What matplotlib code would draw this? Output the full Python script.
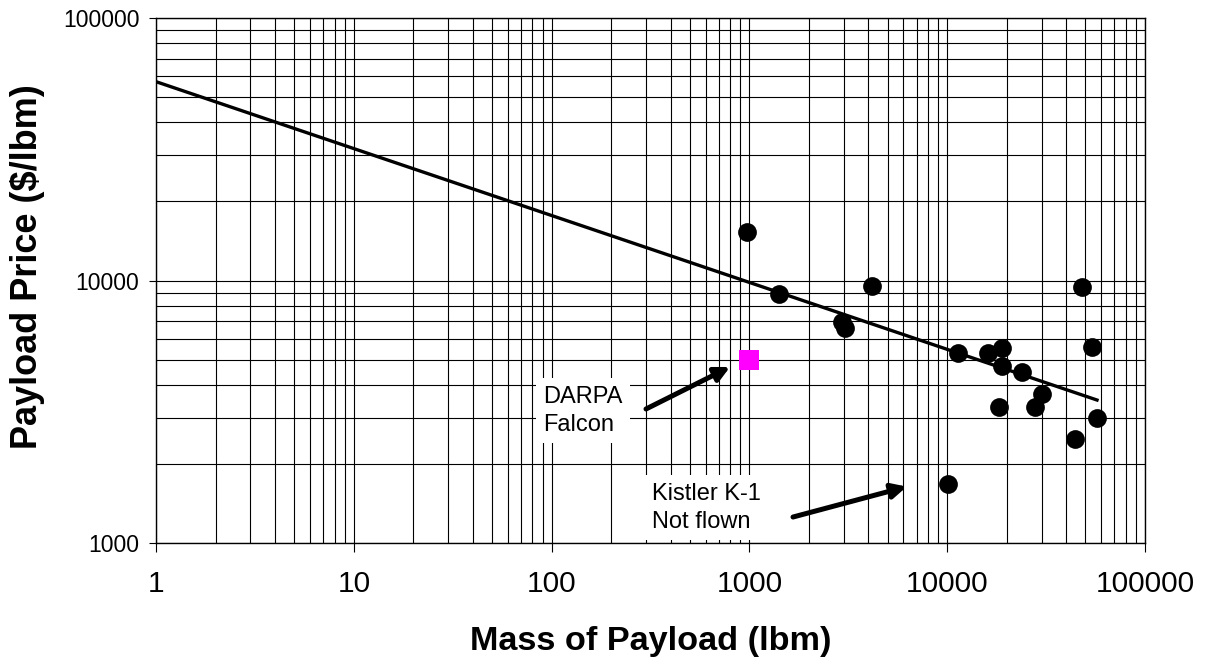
import matplotlib
matplotlib.use("Agg")
import matplotlib.pyplot as plt
from matplotlib.ticker import NullFormatter

plt.rcParams['font.family'] = ['Liberation Sans', 'DejaVu Sans']

# Launch vehicles: payload mass (lbm) vs price ($/lbm)
mass = [972, 1412, 4170, 2940, 3040, 47900, 54000, 11300, 16100, 19000,
        19000, 23800, 30000, 27700, 18300, 57200, 44100, 10090]
price = [15300, 8880, 9530, 6950, 6590, 9420, 5590, 5310, 5280, 5550,
         4740, 4470, 3690, 3290, 3300, 2990, 2500, 1680]

# DARPA Falcon target
falcon_mass = [1000]
falcon_price = [5000]

# trend line ends
trend_x = [1, 57200]
trend_y = [57200, 3505]

x_ticks = [1, 10, 100, 1000, 10000, 100000]
x_labels = ['1', '10', '100', '1000', '10000', '100000']
y_ticks = [1000, 10000, 100000]
y_labels = ['1000', '10000', '100000']

fig = plt.figure(figsize=(12.05, 6.64), dpi=100)
ax = fig.add_axes([0.1295, 0.1822, 0.8207, 0.7907])
ax.set_xscale('log')
ax.set_yscale('log')
ax.set_xlim(1, 100000)
ax.set_ylim(1000, 100000)

ax.grid(which='both', color='black', lw=0.8, zorder=0)
ax.set_axisbelow(True)

ax.plot(trend_x, trend_y, color='black', lw=2.4, zorder=3)
ax.plot(mass, price, 'o', color='black', ms=13.5, mew=0, zorder=4)
ax.plot(falcon_mass, falcon_price, 's', color='#ff00ff', ms=14, mew=0, zorder=4)

# annotations
ax.text(91, 3980, 'DARPA\nFalcon', fontsize=17, va='top', ha='left',
        linespacing=1.4, zorder=5,
        bbox=dict(boxstyle='square,pad=0.3', fc='white', ec='none'))
ax.annotate('', xy=(798, 4684), xytext=(300, 3240), zorder=5,
            arrowprops=dict(arrowstyle='-|>', lw=3.6, color='black',
                            mutation_scale=22, shrinkA=0, shrinkB=0))
ax.text(322, 1700, 'Kistler K-1\nNot flown', fontsize=17, va='top', ha='left',
        linespacing=1.4, zorder=5,
        bbox=dict(boxstyle='square,pad=0.3', fc='white', ec='none'))
ax.annotate('', xy=(6250, 1640), xytext=(1661, 1256), zorder=5,
            arrowprops=dict(arrowstyle='-|>', lw=3.6, color='black',
                            mutation_scale=22, shrinkA=0, shrinkB=0))

ax.set_xticks(x_ticks)
ax.set_xticklabels(x_labels)
ax.set_yticks(y_ticks)
ax.set_yticklabels(y_labels)
ax.xaxis.set_minor_formatter(NullFormatter())
ax.yaxis.set_minor_formatter(NullFormatter())
ax.tick_params(which='minor', length=0)
ax.tick_params(axis='x', which='major', length=6.5, width=0.8, pad=13, labelsize=21.5)
ax.tick_params(axis='y', which='major', length=5, width=0.8, pad=7, labelsize=16.5)
for s in ax.spines.values():
    s.set_color('black')
    s.set_linewidth(1.0)

ax.set_xlabel('Mass of Payload (lbm)', fontsize=24.7, fontweight='bold')
ax.set_ylabel('Payload Price ($/lbm)', fontsize=26, fontweight='bold')
ax.xaxis.set_label_coords(0.5, -0.158)
ax.yaxis.set_label_coords(-0.112, 0.526)

fig.savefig('out.png', dpi=100)
